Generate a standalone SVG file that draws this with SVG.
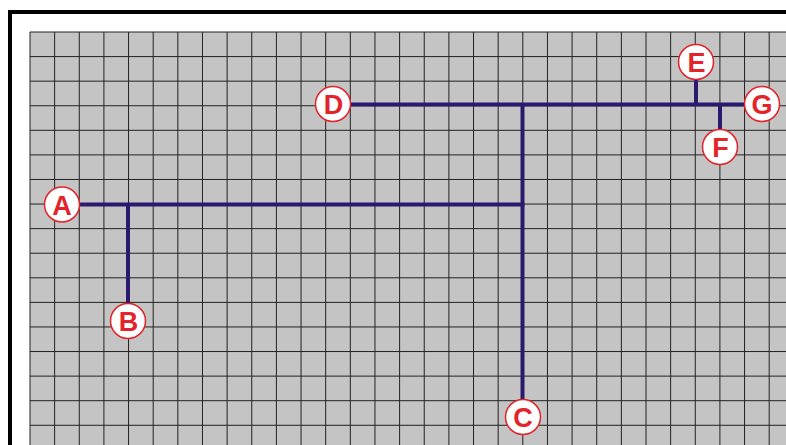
<svg xmlns="http://www.w3.org/2000/svg" width="786" height="445" viewBox="0 0 786 445">
<style>
.grid{stroke:#222;stroke-width:1;fill:none}
.wire{stroke:#2a1a6e;stroke-width:4;fill:none;stroke-linecap:butt}
.node circle{fill:#fff;stroke:#e3242b;stroke-width:1.5}
.node text{fill:#e3242b;font-family:"Liberation Sans",Arial,sans-serif;font-weight:bold;font-size:27px;text-anchor:middle;dominant-baseline:central}
</style>
<rect x="0" y="0" width="786" height="445" fill="#fff"/>
<path d="M10 445 V12 H786" stroke="#000" stroke-width="4" fill="none"/>
<rect x="30" y="32" width="756" height="413" fill="#c4c4c4"/>
<path class="grid" d="M30 32V445 M54.64 32V445 M79.28 32V445 M103.92 32V445 M128.56 32V445 M153.2 32V445 M177.84 32V445 M202.48 32V445 M227.12 32V445 M251.76 32V445 M276.4 32V445 M301.04 32V445 M325.68 32V445 M350.32 32V445 M374.96 32V445 M399.6 32V445 M424.24 32V445 M448.88 32V445 M473.52 32V445 M498.16 32V445 M522.8 32V445 M547.44 32V445 M572.08 32V445 M596.72 32V445 M621.36 32V445 M646 32V445 M670.64 32V445 M695.28 32V445 M719.92 32V445 M744.56 32V445 M769.2 32V445
M30 32H786 M30 56.58H786 M30 81.16H786 M30 105.74H786 M30 130.32H786 M30 154.9H786 M30 179.48H786 M30 204.06H786 M30 228.64H786 M30 253.22H786 M30 277.8H786 M30 302.38H786 M30 326.96H786 M30 351.54H786 M30 376.12H786 M30 400.7H786 M30 425.28H786"/>
<g id="connectors">
<path class="wire" d="M62 204.5 H524.5"/>
<path class="wire" d="M128 204.5 V321"/>
<path class="wire" d="M522.5 104.5 V417"/>
<path class="wire" d="M333 104.5 H762"/>
<path class="wire" d="M696 62 V104.5"/>
<path class="wire" d="M720 104.5 V147"/>
</g>
<g id="A" class="node"><circle cx="62" cy="204.5" r="17.5"/><text x="62" y="205.5">A</text></g>
<g id="B" class="node"><circle cx="128" cy="321" r="17.5"/><text x="128.5" y="322">B</text></g>
<g id="C" class="node"><circle cx="523" cy="417" r="17.5"/><text x="523" y="418">C</text></g>
<g id="D" class="node"><circle cx="333" cy="104" r="17.5"/><text x="333.5" y="105">D</text></g>
<g id="E" class="node"><circle cx="696" cy="62" r="17.5"/><text x="696.5" y="63">E</text></g>
<g id="F" class="node"><circle cx="720" cy="147" r="17.5"/><text x="720.5" y="148">F</text></g>
<g id="G" class="node"><circle cx="762" cy="104" r="17.5"/><text x="762" y="105">G</text></g>
</svg>
